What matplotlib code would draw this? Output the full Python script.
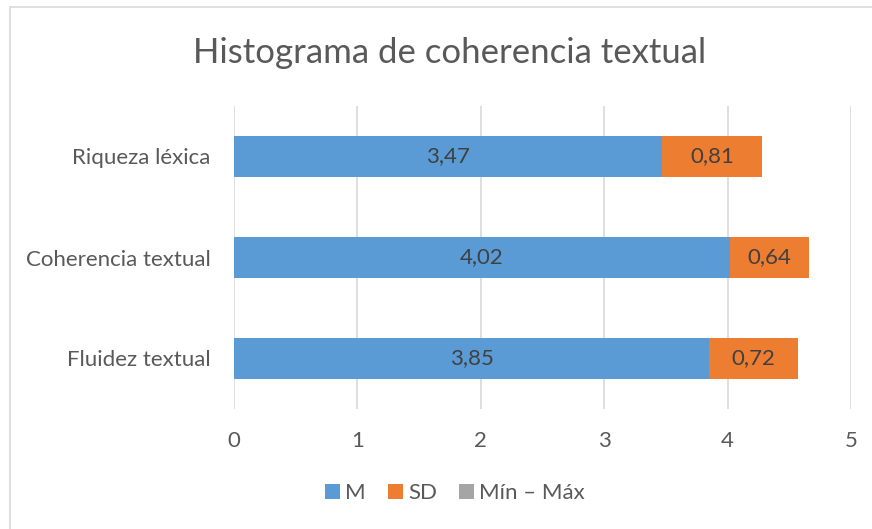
import matplotlib.pyplot as plt
from matplotlib.patches import Rectangle

# data
categories = ['Fluidez textual', 'Coherencia textual', 'Riqueza léxica']
m_vals = [3.85, 4.02, 3.47]
sd_vals = [0.72, 0.64, 0.81]
minmax_vals = [0, 0, 0]
x_ticks = [0, 1, 2, 3, 4, 5]

blue = '#5B9BD5'
orange = '#ED7D31'
gray = '#A5A5A5'
txt = '#595959'

plt.rcParams['font.family'] = ['Lato', 'DejaVu Sans']

fig = plt.figure(figsize=(8.72, 5.29), dpi=100)

# chart border (cut off on right and bottom like the screenshot)
fig.patches.append(Rectangle((10 / 872, -0.05), 1.0, 1 - 7 / 529 + 0.05,
                             transform=fig.transFigure, fill=False,
                             edgecolor='#D9D9D9', linewidth=1.2))

ax = fig.add_axes([234 / 872, 1 - 409 / 529, (851 - 234) / 872, (409 - 106) / 529])

y = range(len(categories))
b1 = ax.barh(y, m_vals, height=0.4, color=blue, label='M', linewidth=0)
b2 = ax.barh(y, sd_vals, left=m_vals, height=0.4, color=orange, label='SD', linewidth=0)
left3 = [a + b for a, b in zip(m_vals, sd_vals)]
b3 = ax.barh(y, minmax_vals, left=left3, height=0.4, color=gray, label='Mín – Máx', linewidth=0)

for i in y:
    ax.text(m_vals[i] / 2, i, f'{m_vals[i]:.2f}'.replace('.', ','),
            ha='center', va='center', fontsize=16, color='#404040')
    ax.text(m_vals[i] + sd_vals[i] / 2, i, f'{sd_vals[i]:.2f}'.replace('.', ','),
            ha='center', va='center', fontsize=16, color='#404040')

ax.set_xlim(0, 5)
ax.set_ylim(-0.5, 2.5)
ax.set_xticks(x_ticks)
ax.set_yticks(list(y))
ax.set_yticklabels(categories)
ax.tick_params(axis='both', length=0, labelsize=16, colors=txt)
ax.tick_params(axis='x', pad=16)
ax.tick_params(axis='y', pad=17)
ax.grid(axis='x', color='#D9D9D9', linewidth=1.2)
ax.set_axisbelow(True)
for s in ax.spines.values():
    s.set_visible(False)

fig.text(0.516, 1 - 53 / 529, 'Histograma de coherencia textual', ha='center', va='center',
         fontsize=25, color=txt)

fig.legend(handles=[b1, b2, b3], loc='center', bbox_to_anchor=(0.522, 1 - 493 / 529),
           ncol=3, frameon=False, fontsize=16, handlelength=0.65, handleheight=0.65,
           handletextpad=0.25, columnspacing=1.0, labelcolor=txt)

fig.savefig('out.png', dpi=100)
